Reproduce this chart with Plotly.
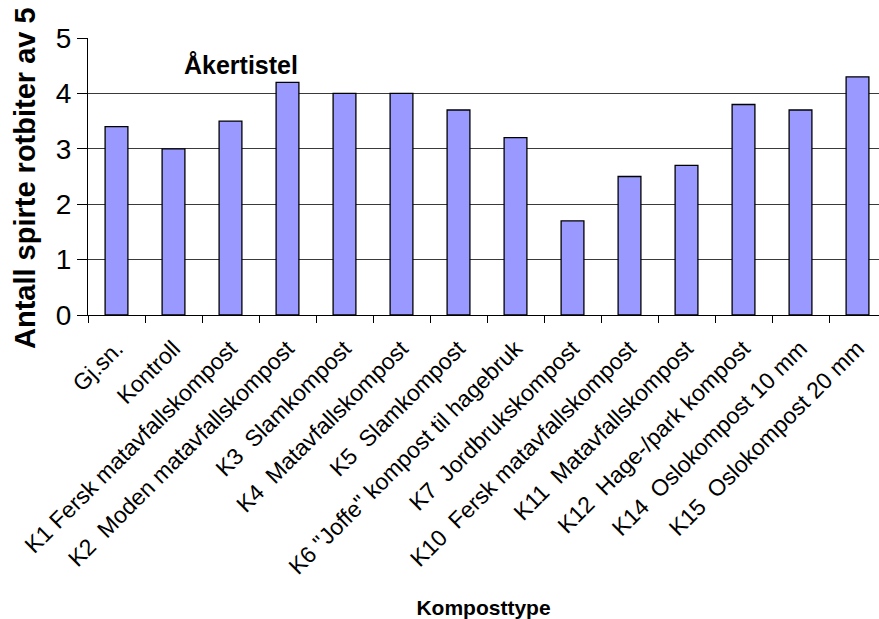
import plotly.graph_objects as go

NB = "\u00a0"

# Compost types (x categories)
categories = [
    "Gj.sn.",
    "Kontroll",
    "K1 Fersk matavfallskompost",
    f"K2 {NB}Moden matavfallskompost",
    f"K3 {NB}Slamkompost",
    f"K4 {NB}Matavfallskompost",
    f"K5 {NB}Slamkompost",
    'K6 "Joffe" kompost til hagebruk',
    f"K7 {NB}Jordbrukskompost",
    f"K10 {NB}Fersk matavfallskompost",
    f"K11 {NB}Matavfallskompost",
    f"K12 {NB}Hage-/park kompost",
    f"K14 {NB}Oslokompost 10 mm",
    f"K15 {NB}Oslokompost 20 mm",
]

# Number of sprouted root pieces out of 5
values = [3.4, 3.0, 3.5, 4.2, 4.0, 4.0, 3.7, 3.2, 1.7, 2.5, 2.7, 3.8, 3.7, 4.3]

y_ticks = [0, 1, 2, 3, 4, 5]

FONT = "Liberation Sans, Arial, sans-serif"

fig = go.Figure(
    go.Bar(
        x=categories,
        y=values,
        width=0.4,
        marker=dict(color="#9999FF", line=dict(color="#000000", width=1.3)),
        hoverinfo="x+y",
    )
)

fig.update_layout(
    width=879,
    height=619,
    margin=dict(l=88, r=0, t=38, b=304),
    paper_bgcolor="white",
    plot_bgcolor="white",
    showlegend=False,
    font=dict(family=FONT, color="black"),
    xaxis=dict(
        type="category",
        range=[-0.5, 13.377],
        automargin=False,
        showline=True,
        linecolor="black",
        linewidth=1,
        ticks="outside",
        tickson="boundaries",
        ticklen=7,
        tickcolor="black",
        tickangle=-45,
        tickfont=dict(size=23, family=FONT, color="black"),
        ticklabelstandoff=10,
        showgrid=False,
        title=dict(
            text="<b>Komposttype</b>",
            font=dict(size=21, family=FONT, color="black"),
            standoff=23,
        ),
    ),
    yaxis=dict(
        range=[0, 5],
        tickvals=y_ticks,
        ticksuffix=NB,
        automargin=False,
        showline=True,
        linecolor="black",
        linewidth=1,
        ticks="outside",
        ticklen=10,
        tickcolor="black",
        tickfont=dict(size=28, family=FONT, color="black"),
        showgrid=True,
        gridcolor="#3a3a3a",
        gridwidth=1,
        zeroline=False,
    ),
    annotations=[
        # y-axis title, placed left of the tick labels
        dict(
            text="<b>Antall spirte rotbiter av 5</b>",
            xref="paper",
            yref="paper",
            x=-0.0796,
            y=0.4946,
            xanchor="center",
            yanchor="middle",
            textangle=-90,
            showarrow=False,
            font=dict(size=29, family=FONT, color="black"),
        ),
        dict(
            text="<b>Åkertistel</b>",
            xref="paper",
            yref="paper",
            x=0.1934,
            y=0.9025,
            xanchor="center",
            yanchor="middle",
            showarrow=False,
            font=dict(size=25, family=FONT, color="black"),
        ),
    ],
)

fig.write_html("out.html")
